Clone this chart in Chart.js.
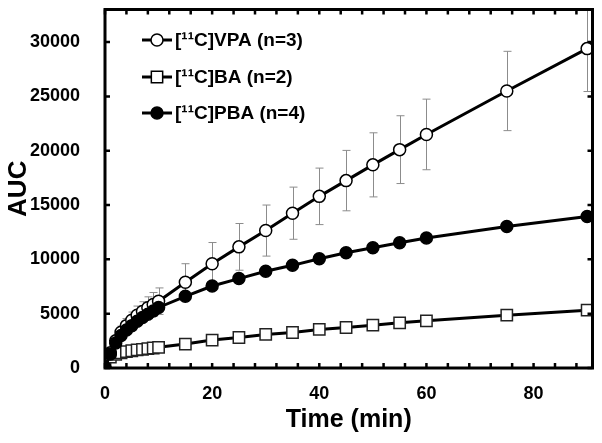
<!DOCTYPE html>
<html>
<head>
<meta charset="utf-8">
<script src="https://cdn.jsdelivr.net/npm/chart.js@4.4.0/dist/chart.umd.min.js"></script>
<style>
  body { margin: 0; background: #fff; }
  #wrap { width: 602px; height: 443px; }
</style>
</head>
<body>
<div id="wrap"><canvas id="auc" width="602" height="443"></canvas></div>
<script>
// sampling times (min)
const times = [0, 1, 2, 3, 4, 5, 6, 7, 8, 9, 10, 15, 20, 25, 30, 35, 40, 45, 50, 55, 60, 75, 90];

// [11C]VPA mean + SD
const vpa   = [0, 1400, 2500, 3300, 3900, 4400, 4850, 5200, 5550, 5850, 6150, 7900, 9600, 11150, 12650, 14250, 15800, 17250, 18700, 20100, 21500, 25500, 29400];
const vpaSd = [0, 200, 400, 550, 650, 750, 850, 900, 1000, 1100, 1220, 1700, 1950, 2150, 2350, 2400, 2600, 2780, 2950, 3120, 3250, 3650, 3950];

// [11C]BA
const ba  = [0, 1000, 1250, 1400, 1500, 1590, 1660, 1720, 1780, 1840, 1900, 2200, 2570, 2810, 3090, 3270, 3550, 3730, 3940, 4160, 4340, 4860, 5320];

// [11C]PBA
const pba = [0, 1300, 2300, 3000, 3500, 3900, 4300, 4650, 4950, 5250, 5570, 6600, 7550, 8230, 8900, 9450, 10060, 10610, 11070, 11530, 11960, 13030, 13940];

const legendLabels = ["[\u00B9\u00B9C]VPA (n=3)", "[\u00B9\u00B9C]BA (n=2)", "[\u00B9\u00B9C]PBA (n=4)"];
const xTickLabels = [0, 20, 40, 60, 80];
const yTickLabels = [0, 5000, 10000, 15000, 20000, 25000, 30000];

const FONT = "'Liberation Sans', Arial, sans-serif";

function pts(ys) {
    return times.map((t, i) => ({ x: t, y: ys[i] }));
}

function noPad(s) {
    s.paddingLeft = 0; s.paddingRight = 0; s.paddingTop = 0; s.paddingBottom = 0;
}

// error bars (VPA), drawn under the markers
const errorBars = {
    id: "errorBars",
    beforeDatasetsDraw(chart) {
        const { ctx, chartArea: a, scales: { x, y } } = chart;
        ctx.save();
        ctx.beginPath();
        ctx.rect(a.left, a.top, a.right - a.left, a.bottom - a.top);
        ctx.clip();
        ctx.strokeStyle = "#8c8c8c";
        ctx.lineWidth = 1;
        for (let i = 0; i < times.length; i++) {
            if (!vpaSd[i]) continue;
            const px = Math.round(x.getPixelForValue(times[i])) + 0.5;
            const top = y.getPixelForValue(vpa[i] + vpaSd[i]);
            const bot = y.getPixelForValue(vpa[i] - vpaSd[i]);
            ctx.beginPath();
            ctx.moveTo(px, top); ctx.lineTo(px, bot);
            ctx.moveTo(px - 4, top); ctx.lineTo(px + 4, top);
            ctx.moveTo(px - 4, bot); ctx.lineTo(px + 4, bot);
            ctx.stroke();
        }
        ctx.restore();
    }
};

function marker(ctx, style, fill, r, cx, cy) {
    ctx.beginPath();
    if (style === "rect") {
        const h = r * Math.SQRT1_2;
        ctx.rect(cx - h, cy - h, 2 * h, 2 * h);
    } else {
        ctx.arc(cx, cy, r, 0, Math.PI * 2);
    }
    ctx.fillStyle = fill;
    ctx.fill();
    ctx.lineWidth = 1.5;
    ctx.strokeStyle = "#000";
    ctx.stroke();
}

// frame, inward ticks and legend
const frame = {
    id: "frame",
    afterDraw(chart) {
        const { ctx, chartArea: a, scales: { x, y } } = chart;
        ctx.save();
        ctx.strokeStyle = "#000";
        ctx.lineWidth = 2.5;
        for (let t = 0; t <= 90; t += 4) {
            const px = x.getPixelForValue(t);
            ctx.beginPath();
            ctx.moveTo(px, a.bottom); ctx.lineTo(px, a.bottom - 5);
            ctx.moveTo(px, a.top); ctx.lineTo(px, a.top + 5);
            ctx.stroke();
        }
        for (const v of yTickLabels) {
            const py = y.getPixelForValue(v);
            ctx.beginPath();
            ctx.moveTo(a.left, py); ctx.lineTo(a.left + 5, py);
            ctx.moveTo(a.right, py); ctx.lineTo(a.right - 5, py);
            ctx.stroke();
        }
        ctx.lineWidth = 3;
        ctx.strokeRect(a.left, a.top, a.right - a.left, a.bottom - a.top);

        // legend
        const rows = [40, 77, 113];
        const ds = chart.data.datasets;
        ctx.font = "bold 19px " + FONT;
        ctx.textBaseline = "middle";
        ctx.textAlign = "left";
        for (let i = 0; i < 3; i++) {
            const d = ds[i];
            ctx.beginPath();
            ctx.lineWidth = 3;
            ctx.strokeStyle = "#000";
            ctx.moveTo(142, rows[i]); ctx.lineTo(172, rows[i]);
            ctx.stroke();
            marker(ctx, d.pointStyle, d.pointBackgroundColor, d.pointRadius, 157, rows[i]);
            ctx.fillStyle = "#000";
            ctx.fillText(legendLabels[i], 175, rows[i] + 1);
        }
        ctx.restore();
    }
};

new Chart(document.getElementById("auc"), {
    type: "line",
    data: {
        datasets: [
            {
                label: legendLabels[0], data: pts(vpa), order: 1,
                borderColor: "#000", borderWidth: 3,
                pointStyle: "circle", pointRadius: 6, pointBorderWidth: 1.5,
                pointBackgroundColor: "#fff", pointBorderColor: "#000"
            },
            {
                label: legendLabels[1], data: pts(ba), order: 2,
                borderColor: "#000", borderWidth: 3,
                pointStyle: "rect", pointRadius: 8, pointBorderWidth: 1.5,
                pointBackgroundColor: "#fff", pointBorderColor: "#222"
            },
            {
                label: legendLabels[2], data: pts(pba), order: 0,
                borderColor: "#000", borderWidth: 3,
                pointStyle: "circle", pointRadius: 6, pointBorderWidth: 1.5,
                pointBackgroundColor: "#000", pointBorderColor: "#000"
            }
        ]
    },
    options: {
        responsive: false,
        animation: false,
        layout: { padding: { top: 8, right: 9, left: 0, bottom: 0 } },
        plugins: { legend: { display: false }, tooltip: { enabled: false } },
        scales: {
            x: {
                type: "linear", min: 0, max: 91,
                afterFit: s => { s.height = 75; noPad(s); },
                afterBuildTicks: s => { s.ticks = xTickLabels.map(v => ({ value: v })); },
                grid: { display: false }, border: { display: false },
                ticks: { color: "#000", padding: 7, callback: v => String(v),
                         font: { family: FONT, size: 18, weight: "bold" } },
                title: { display: true, text: "Time (min)", color: "#000", padding: { top: 0, bottom: 8 },
                         font: { family: FONT, size: 25, weight: "bold" } }
            },
            y: {
                type: "linear", min: 0, max: 33000,
                afterFit: s => { s.width = 105; noPad(s); },
                afterBuildTicks: s => { s.ticks = yTickLabels.map(v => ({ value: v })); },
                grid: { display: false }, border: { display: false },
                ticks: { color: "#000", padding: 17, callback: v => String(v),
                         font: { family: FONT, size: 18, weight: "bold" } },
                title: { display: true, text: "AUC", color: "#000", padding: { top: 3, bottom: 0 },
                         font: { family: FONT, size: 26, weight: "bold" } }
            }
        }
    },
    plugins: [errorBars, frame]
});
</script>
</body>
</html>
